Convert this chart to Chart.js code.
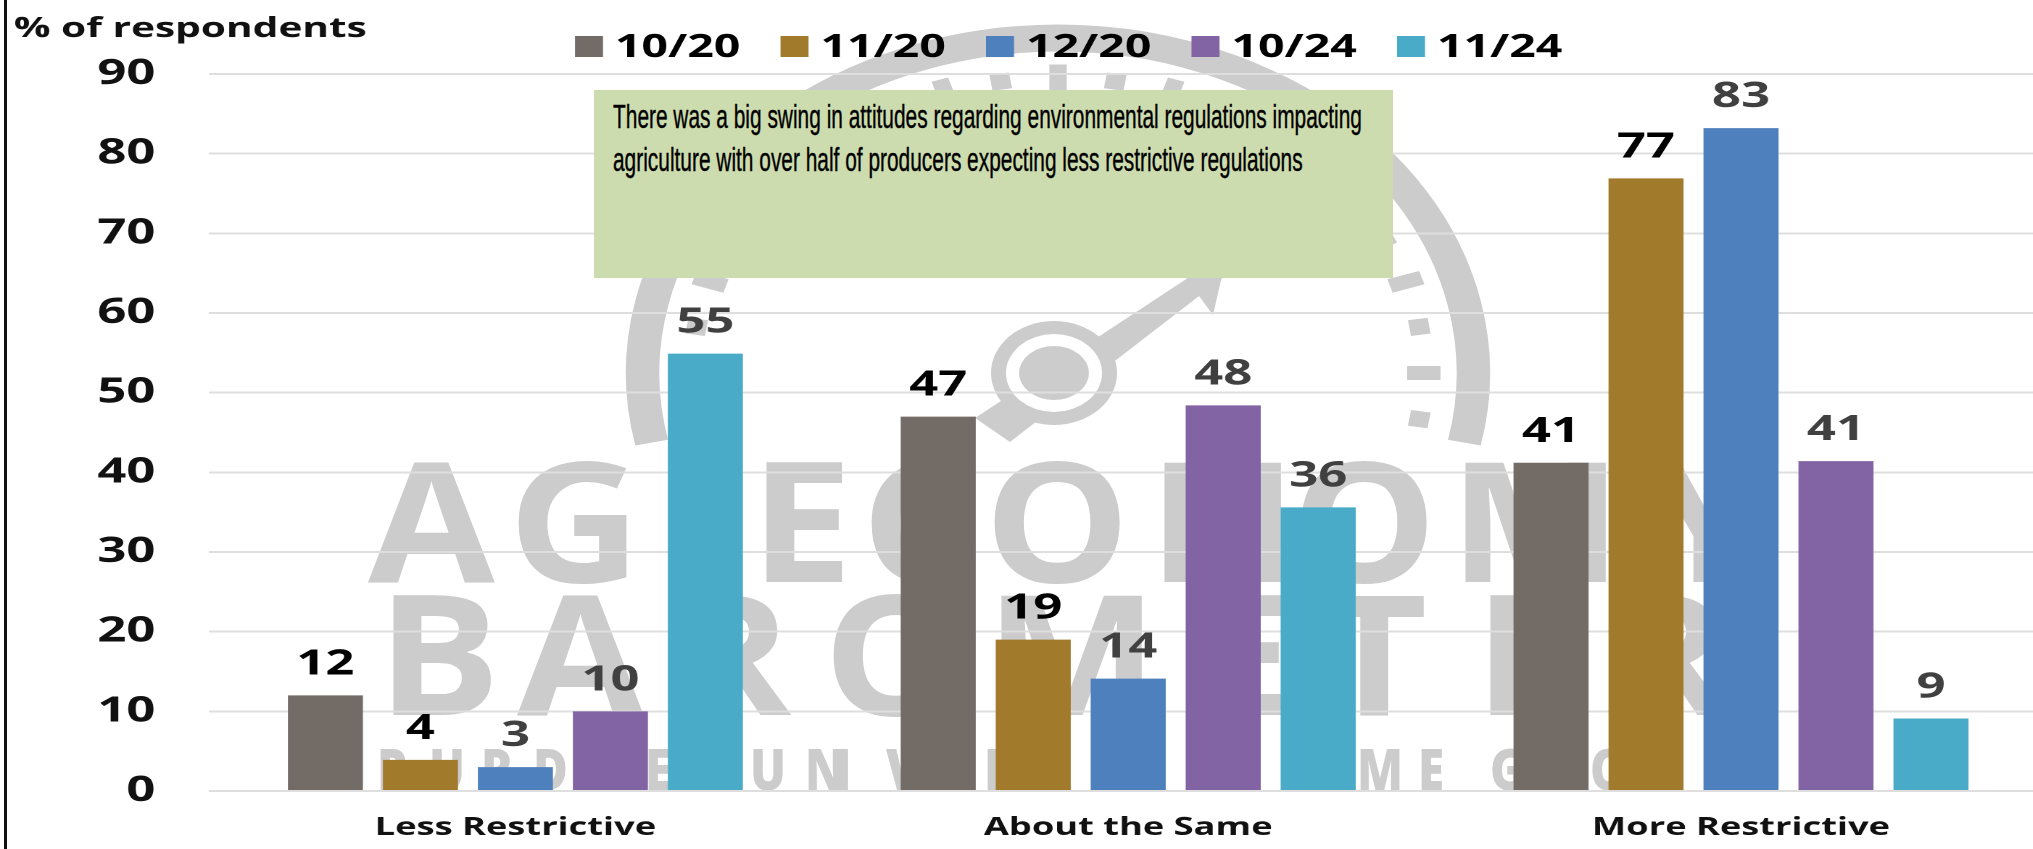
<!DOCTYPE html>
<html>
<head>
<meta charset="utf-8">
<title>Environmental regulations</title>
<script src="https://cdn.jsdelivr.net/npm/chart.js@4"></script>
<style>
    html, body { margin: 0; background: #fff; overflow: hidden; width: 2033px; height: 849px; }
    #mark { position: absolute; left: 0; top: 0; }
    #mark text { font-family: "Open Sans"; font-weight: 700; fill: #ccc; }
    #chart { position: absolute; left: 0; top: 0; transform: scaleX(1.45); transform-origin: 0 0; }
    #edge { position: absolute; left: 4px; top: 0; width: 3px; height: 849px; background: #111; }
    #note { position: absolute; left: 594px; top: 90px; width: 799px; height: 188px; background: #cddcaf; }
    #note div { position: absolute; left: 19px; white-space: nowrap; color: #000; font: 33px "Liberation Sans Narrow", "Liberation Sans"; -webkit-text-stroke: .4px #000; transform: scaleX(.633); transform-origin: 0 0; }
</style>
</head>
<body>
<svg id="mark" width="2033" height="849" viewBox="0 0 2033 849">
    <g id="dial" transform="translate(1058,373) scale(1.24,1)">
        <path d="M -327.7 69.6 A 335 335 0 1 1 327.7 69.6" fill="none" stroke="#ccc" stroke-width="27"/>
    </g>
    <polygon points="975,418 1200,270 1225,276 1010,442" fill="#ccc"/>
    <polygon points="1180,270 1213,315 1228,250" fill="#ccc"/>
    <ellipse cx="1054" cy="373" rx="63" ry="52" fill="#ccc"/>
    <ellipse cx="1054" cy="373" rx="48" ry="39" fill="#fff"/>
    <ellipse cx="1054" cy="373" rx="35" ry="27" fill="#ccc"/>
</svg>
<canvas id="chart" width="1412" height="849"></canvas>
<div id="edge"></div>
<div id="note">
    <div style="top:8px">There was a big swing in attitudes regarding environmental regulations impacting</div>
    <div style="top:51px">agriculture with over half of producers expecting less restrictive regulations</div>
</div>
<script>
    const categories = ['Less Restrictive', 'About the Same', 'More Restrictive'];
    const seriesNames = ['10/20', '11/20', '12/20', '10/24', '11/24'];
    const oct20 = [12, 47, 41.2];
    const nov20 = [3.9, 19, 76.9];
    const dec20 = [3, 14.1, 83.2];
    const oct24 = [10, 48.4, 41.4];
    const nov24 = [54.9, 35.6, 9.1];
    const seriesColors = ['#736b66', '#a27a2b', '#4e80bd', '#8263a3', '#49abc7'];
    const labelColors = ['#000', '#000', '#404040', '#404040', '#404040'];

    // the source picture is stretched sideways, so the whole canvas is too
    const stretch = 1.45;

    const svgNs = 'http://www.w3.org/2000/svg';

    // gauge ticks of the watermark, every 9 degrees, every other one longer
    const dial = document.getElementById('dial');
    for (let t = 9, i = 0; t >= -189; t -= 9, i++) {
        const tick = document.createElementNS(svgNs, 'rect');
        const len = i % 2 ? 27 : 16;
        const wid = i % 2 ? 14 : 16;
        tick.setAttribute('x', 295 - len / 2);
        tick.setAttribute('y', -wid / 2);
        tick.setAttribute('width', len);
        tick.setAttribute('height', wid);
        tick.setAttribute('fill', '#ccc');
        tick.setAttribute('transform', 'rotate(' + t + ')');
        dial.appendChild(tick);
    }

    // watermark wording, placed letter by letter
    const markLines = [
        { text: 'AG ECONOMY', y: 582, size: 167, wide: 1.1, xs: [368, 508, 640, 750, 861, 984, 1148, 1291, 1449, 1650] },
        { text: 'BAROMETER', y: 715, size: 167, wide: 1.1, xs: [377, 517, 670, 823, 985, 1190, 1321, 1474, 1607] },
        { text: 'PURDUE UNIVERSITY', y: 790, size: 56, wide: 0.85, xs: [377, 429, 481, 533, 590, 645, 700, 750, 805, 835, 886, 935, 984, 1030, 1050, 1100] },
        { text: 'CME GROUP', y: 790, size: 56, wide: 0.85, xs: [1296, 1357, 1418, 1470, 1490, 1535, 1590, 1650, 1710] }
    ];
    const mark = document.getElementById('mark');
    markLines.forEach(line => {
        const el = document.createElementNS(svgNs, 'text');
        el.textContent = line.text;
        el.setAttribute('x', line.xs.map(x => x / line.wide).join(' '));
        el.setAttribute('y', line.y);
        el.setAttribute('font-size', line.size);
        el.setAttribute('transform', 'scale(' + line.wide + ',1)');
        el.style.fontWeight = line.size < 100 ? 800 : 700;
        mark.appendChild(el);
    });

    const textPlugin = {
        id: 'textPlugin',
        afterDatasetsDraw(chart) {
            const ctx = chart.ctx;
            ctx.save();
            ctx.textBaseline = 'alphabetic';

            // value above each bar
            ctx.font = 'bold 35px "Open Sans"';
            ctx.textAlign = 'center';
            chart.data.datasets.forEach((ds, i) => {
                ctx.fillStyle = labelColors[i];
                chart.getDatasetMeta(i).data.forEach((bar, j) => {
                    ctx.fillText(Math.round(ds.data[j]), bar.x, bar.y - 21);
                });
            });

            // legend
            ctx.font = 'bold 32px "Open Sans"';
            ctx.textAlign = 'left';
            seriesNames.forEach((name, i) => {
                const x = (575 + i * 205.5) / stretch;
                ctx.fillStyle = seriesColors[i];
                ctx.fillRect(x, 36, 28 / stretch, 21);
                ctx.fillStyle = '#000';
                ctx.fillText(name, x + 40 / stretch, 57);
            });

            // axis caption
            ctx.font = 'bold 28px "Open Sans"';
            ctx.fillStyle = '#111';
            ctx.fillText('% of respondents', 14 / stretch, 37);
            ctx.restore();
        }
    };

    new Chart(document.getElementById('chart'), {
        type: 'bar',
        data: {
            labels: categories,
            datasets: [oct20, nov20, dec20, oct24, nov24].map((values, i) => ({
                label: seriesNames[i],
                data: values,
                backgroundColor: seriesColors[i],
                categoryPercentage: 0.775,
                barPercentage: 0.79
            }))
        },
        options: {
            responsive: false,
            animation: false,
            devicePixelRatio: 2,
            layout: { padding: { top: 74, left: 0, right: 0, bottom: 0 } },
            plugins: { legend: { display: false }, tooltip: { enabled: false } },
            scales: {
                x: {
                    afterFit(scale) { scale.height = 57; },
                    grid: { display: false },
                    border: { display: false },
                    ticks: { color: '#111', font: { family: 'Open Sans', weight: 'bold', size: 25 }, padding: 14, maxRotation: 0 }
                },
                y: {
                    min: 0,
                    max: 90,
                    afterFit(scale) { scale.width = 209 / stretch; },
                    grid: { color: '#dedede', lineWidth: 2, drawTicks: false },
                    border: { display: false },
                    ticks: { stepSize: 10, color: '#111', font: { family: 'Open Sans', weight: 'bold', size: 35 }, padding: 37 }
                }
            }
        },
        plugins: [textPlugin]
    });
</script>
</body>
</html>
